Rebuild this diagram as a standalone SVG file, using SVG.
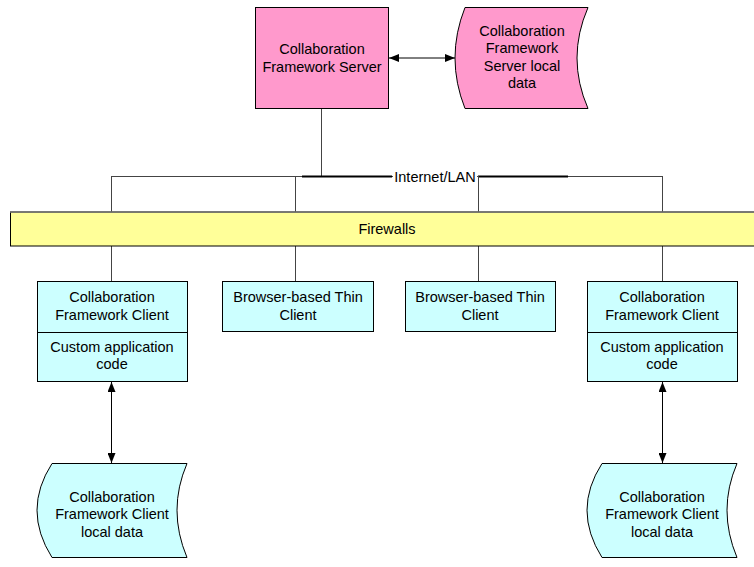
<svg xmlns="http://www.w3.org/2000/svg" width="754" height="567" viewBox="0 0 754 567">
  <style>
    text { font-family: "Liberation Sans", Arial, sans-serif; font-size: 14.5px; fill: #000; text-anchor: middle; }
    .box { stroke: #000; stroke-width: 1; }
    .server { fill: #FF99CC; }
    .client { fill: #CCFFFF; }
    .line { stroke: #000; stroke-width: 1; fill: none; }
    .thin { stroke: #444; stroke-width: 1; fill: none; }
    .thick { stroke: #000; stroke-width: 2; fill: none; }
  </style>
  <defs>
    <marker id="arrow" viewBox="0 0 10 8" refX="10" refY="4" markerWidth="10" markerHeight="8" markerUnits="userSpaceOnUse" orient="auto-start-reverse">
      <path d="M0,0 L10,4 L0,8 Z" fill="#000"/>
    </marker>
  </defs>

  <rect width="754" height="567" fill="#fff"/>

  <!-- connectors -->
  <g id="connectors">
    <line class="line" x1="389" y1="58" x2="455" y2="58" marker-start="url(#arrow)" marker-end="url(#arrow)"/>
    <line class="thin" x1="321.5" y1="108" x2="321.5" y2="176"/>
    <line class="thin" x1="111.5" y1="176.5" x2="662.5" y2="176.5"/>
    <line class="thick" x1="302" y1="176.5" x2="392" y2="176.5"/>
    <line class="thick" x1="478" y1="176.5" x2="568" y2="176.5"/>
    <line class="thin" x1="111.5" y1="176" x2="111.5" y2="212"/>
    <line class="thin" x1="295.5" y1="176" x2="295.5" y2="212"/>
    <line class="thin" x1="478.5" y1="176" x2="478.5" y2="212"/>
    <line class="thin" x1="662.5" y1="176" x2="662.5" y2="212"/>
    <line class="thin" x1="111.5" y1="246" x2="111.5" y2="281"/>
    <line class="thin" x1="295.5" y1="246" x2="295.5" y2="281"/>
    <line class="thin" x1="478.5" y1="246" x2="478.5" y2="281"/>
    <line class="thin" x1="662.5" y1="246" x2="662.5" y2="281"/>
    <line class="line" x1="111.5" y1="382" x2="111.5" y2="463" marker-start="url(#arrow)" marker-end="url(#arrow)"/>
    <line class="line" x1="662.5" y1="382" x2="662.5" y2="463" marker-start="url(#arrow)" marker-end="url(#arrow)"/>
    <rect x="393" y="168" width="84" height="16" fill="#fff"/>
    <text x="435" y="182">Internet/LAN</text>
  </g>

  <g id="server">
    <rect class="box server" x="255.5" y="7.5" width="133" height="101"/>
    <text x="322" y="54">Collaboration</text>
    <text x="322" y="72">Framework Server</text>
  </g>

  <g id="server-data">
    <path class="box server" d="M465,7.5 L588,7.5 Q566,58 588,108.5 L465,108.5 Q445,58 465,7.5 Z"/>
    <text x="522" y="36">Collaboration</text>
    <text x="522" y="53">Framework</text>
    <text x="522" y="71">Server local</text>
    <text x="522" y="88">data</text>
  </g>

  <g id="firewalls">
    <rect x="10.5" y="212" width="750" height="34" fill="#FFFF99" stroke="#000" stroke-width="1"/>
    <line x1="10" y1="212" x2="754" y2="212" stroke="#777" stroke-width="1.5"/>
    <text x="387" y="234">Firewalls</text>
  </g>

  <g id="client-left">
    <rect class="box client" x="37.5" y="281.5" width="150" height="100"/>
    <line class="line" x1="37.5" y1="332.5" x2="187.5" y2="332.5"/>
    <text x="112" y="302">Collaboration</text>
    <text x="112" y="320">Framework Client</text>
    <text x="112" y="352">Custom application</text>
    <text x="112" y="369">code</text>
  </g>

  <g id="thin-client-left">
    <rect class="box client" x="222.5" y="281.5" width="151" height="50"/>
    <text x="298" y="302">Browser-based Thin</text>
    <text x="298" y="320">Client</text>
  </g>

  <g id="thin-client-right">
    <rect class="box client" x="405.5" y="281.5" width="150" height="50"/>
    <text x="480" y="302">Browser-based Thin</text>
    <text x="480" y="320">Client</text>
  </g>

  <g id="client-right">
    <rect class="box client" x="587.5" y="281.5" width="150" height="100"/>
    <line class="line" x1="587.5" y1="332.5" x2="737.5" y2="332.5"/>
    <text x="662" y="302">Collaboration</text>
    <text x="662" y="320">Framework Client</text>
    <text x="662" y="352">Custom application</text>
    <text x="662" y="369">code</text>
  </g>

  <g id="client-data-left">
    <path class="box client" d="M52,463.5 L187,463.5 Q167,510 187,557.5 L52,557.5 Q22,510 52,463.5 Z"/>
    <text x="112" y="502">Collaboration</text>
    <text x="112" y="519">Framework Client</text>
    <text x="112" y="537">local data</text>
  </g>

  <g id="client-data-right">
    <path class="box client" d="M602,463.5 L737,463.5 Q717,510 737,557.5 L602,557.5 Q572,510 602,463.5 Z"/>
    <text x="662" y="502">Collaboration</text>
    <text x="662" y="519">Framework Client</text>
    <text x="662" y="537">local data</text>
  </g>
</svg>
